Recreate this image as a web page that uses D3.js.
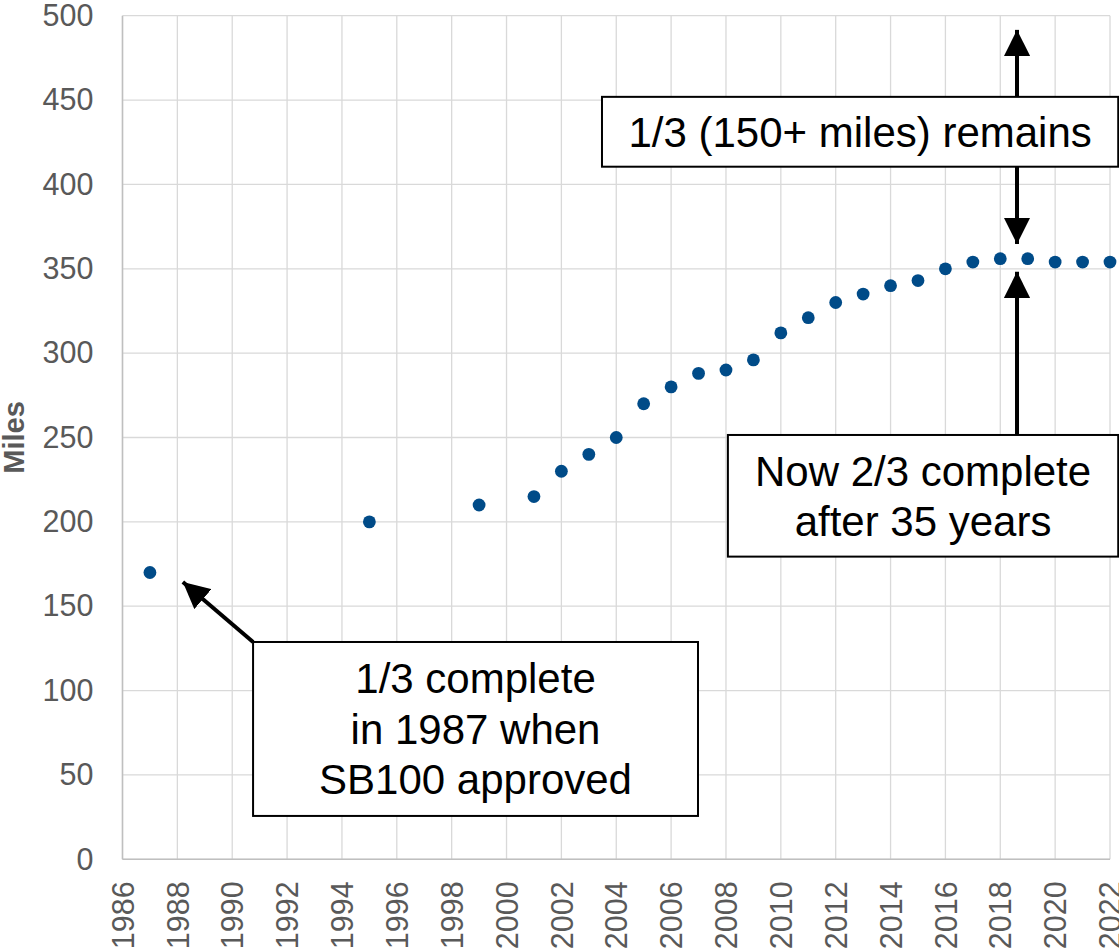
<!DOCTYPE html>
<html>
<head>
<meta charset="utf-8">
<script src="https://cdn.jsdelivr.net/npm/d3@7"></script>
<style>
  body { margin: 0; background: #fff; }
  svg { display: block; font-family: "Liberation Sans", Arial, sans-serif; }
</style>
</head>
<body>
<script>
// miles completed per year (only years with a reading)
const years = [1987, 1995, 1999, 2001, 2002, 2003, 2004, 2005, 2006, 2007, 2008, 2009,
               2010, 2011, 2012, 2013, 2014, 2015, 2016, 2017, 2018, 2019, 2020, 2021, 2022];
const miles = [170, 200, 210, 215, 230, 240, 250, 270, 280, 288, 290, 296,
               312, 321, 330, 335, 340, 343, 350, 354, 356, 356, 354, 354, 354];

const xTicks = d3.range(1986, 2023, 2);
const yTicks = d3.range(0, 501, 50);

const WIDTH = 1119;
const HEIGHT = 951;
const MARGIN = {top: 15.7, left: 122.5, right: 9, bottom: 91.7};

const svg = d3.select('body')
  .append('svg')
  .attr('width', WIDTH)
  .attr('height', HEIGHT);

const xScale = d3.scaleLinear()
  .domain([1986, 2022])
  .range([MARGIN.left, WIDTH - MARGIN.right]);
const yScale = d3.scaleLinear()
  .domain([0, 500])
  .range([HEIGHT - MARGIN.bottom, MARGIN.top]);

// grid
svg.append('g')
  .selectAll('line.v')
  .data(xTicks)
  .enter()
  .append('line')
  .attr('x1', d => xScale(d)).attr('x2', d => xScale(d))
  .attr('y1', yScale(0)).attr('y2', yScale(500))
  .attr('stroke', '#d9d9d9')
  .attr('stroke-width', 1.3);

svg.append('g')
  .selectAll('line.h')
  .data(yTicks)
  .enter()
  .append('line')
  .attr('x1', xScale(1986)).attr('x2', xScale(2022))
  .attr('y1', d => yScale(d)).attr('y2', d => yScale(d))
  .attr('stroke', '#d9d9d9')
  .attr('stroke-width', 1.3);

// axis lines
svg.append('line')
  .attr('x1', xScale(1986)).attr('x2', xScale(1986))
  .attr('y1', yScale(0)).attr('y2', yScale(500))
  .attr('stroke', '#bfbfbf').attr('stroke-width', 1.5);
svg.append('line')
  .attr('x1', xScale(1986)).attr('x2', xScale(2022))
  .attr('y1', yScale(0)).attr('y2', yScale(0))
  .attr('stroke', '#bfbfbf').attr('stroke-width', 1.5);

// y axis labels
const yAxis = d3.axisLeft(yScale).tickValues(yTicks).tickSize(0).tickPadding(29);
svg.append('g')
  .attr('transform', 'translate(' + MARGIN.left + ',0)')
  .call(yAxis)
  .call(g => g.select('.domain').remove())
  .selectAll('text')
  .attr('font-size', 30.5)
  .attr('font-family', '"Liberation Sans", Arial, sans-serif')
  .attr('fill', '#595959');

// x axis labels, rotated
const xAxis = d3.axisBottom(xScale).tickValues(xTicks).tickFormat(d3.format('d')).tickSize(0);
svg.append('g')
  .attr('transform', 'translate(0,' + yScale(0) + ')')
  .call(xAxis)
  .call(g => g.select('.domain').remove())
  .selectAll('text')
  .attr('font-size', 30.5)
  .attr('font-family', '"Liberation Sans", Arial, sans-serif')
  .attr('fill', '#595959')
  .attr('text-anchor', 'end')
  .attr('transform', 'rotate(-90)')
  .attr('x', -22)
  .attr('y', 0)
  .attr('dy', '0.35em');

// y title
svg.append('text')
  .attr('transform', 'translate(24,' + yScale(250) + ') rotate(-90)')
  .attr('text-anchor', 'middle')
  .attr('font-size', 29)
  .attr('font-weight', 'bold')
  .attr('fill', '#595959')
  .text('Miles');

// dots
svg.append('g')
  .selectAll('circle')
  .data(years)
  .enter()
  .append('circle')
  .attr('cx', d => xScale(d))
  .attr('cy', (d, i) => yScale(miles[i]))
  .attr('r', 6.4)
  .attr('fill', '#004b88');

// annotations, in data units (year, miles)
svg.append('defs').append('marker')
  .attr('id', 'head')
  .attr('viewBox', '0 0 10 10')
  .attr('refX', 10).attr('refY', 5)
  .attr('markerWidth', 6.6).attr('markerHeight', 6.6)
  .attr('markerUnits', 'strokeWidth')
  .attr('orient', 'auto')
  .append('path')
  .attr('d', 'M0,0 L10,5 L0,10 Z')
  .attr('fill', '#000');

const arrows = [
  {from: [1990.76, 128.8], to: [1988.2, 164.4]},
  {from: [2018.61, 451.9], to: [2018.61, 491.6]},
  {from: [2018.61, 410.5], to: [2018.61, 364.7]},
  {from: [2018.61, 251.5], to: [2018.61, 348.3]}
];

svg.append('g')
  .selectAll('line')
  .data(arrows)
  .enter()
  .append('line')
  .attr('x1', d => xScale(d.from[0]))
  .attr('y1', d => yScale(d.from[1]))
  .attr('x2', d => xScale(d.to[0]))
  .attr('y2', d => yScale(d.to[1]))
  .attr('stroke', '#000')
  .attr('stroke-width', 4)
  .attr('marker-end', 'url(#head)');

const boxes = [
  {x0: 1990.76, x1: 2006.98, y0: 128.8, y1: 25.7, lines: ['1/3 complete', 'in 1987 when', 'SB100 approved']},
  {x0: 2003.48, x1: 2022.3, y0: 451.9, y1: 410.5, lines: ['1/3 (150+ miles) remains']},
  {x0: 2008.07, x1: 2022.3, y0: 251.5, y1: 179.4, lines: ['Now 2/3 complete', 'after 35 years']}
];

const LINE_H = 50.5;

boxes.forEach(b => {
  const left = xScale(b.x0), right = xScale(b.x1);
  const top = yScale(b.y0), bottom = yScale(b.y1);
  svg.append('rect')
    .attr('x', left).attr('y', top)
    .attr('width', right - left).attr('height', bottom - top)
    .attr('fill', '#fff')
    .attr('stroke', '#000')
    .attr('stroke-width', 2);

  const cx = (left + right) / 2;
  const cy = (top + bottom) / 2;
  b.lines.forEach((t, i) => {
    svg.append('text')
      .attr('x', cx)
      .attr('y', cy + (i - (b.lines.length - 1) / 2) * LINE_H + 15)
      .attr('text-anchor', 'middle')
      .attr('font-size', 42)
      .attr('fill', '#000')
      .text(t);
  });
});
</script>
</body>
</html>
